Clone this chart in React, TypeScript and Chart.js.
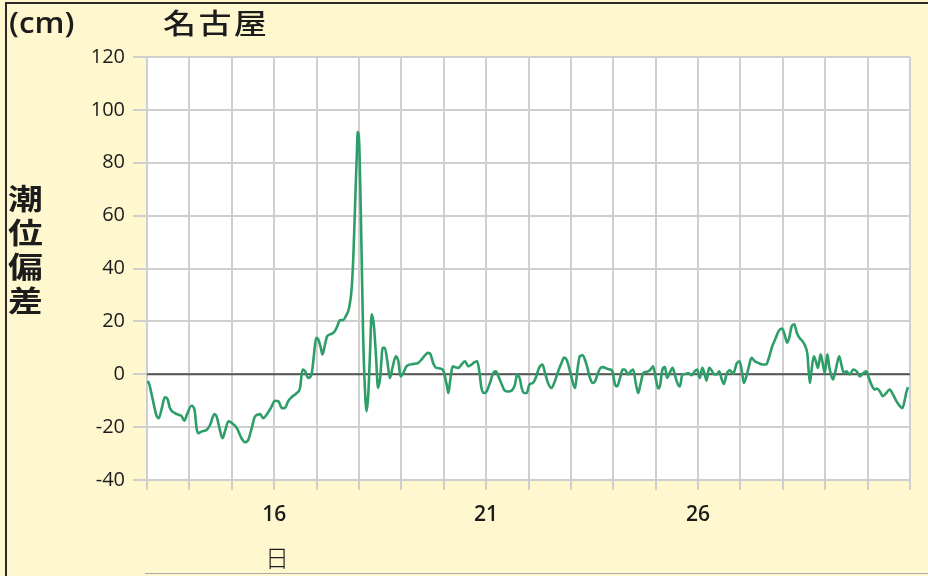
import React, { useEffect, useRef } from 'react';
import { Chart, registerables } from 'chart.js';

Chart.register(...registerables);

// time in days of the month (13th 0:00 .. 31st 0:00)
const times = [
  13.0, 13.03, 13.11, 13.23, 13.28, 13.35, 13.42, 13.49, 13.54, 13.66, 13.74, 13.82, 13.88, 13.94,
  14.05, 14.12, 14.17, 14.21, 14.29, 14.41, 14.49, 14.59, 14.64, 14.7, 14.78, 14.84, 14.92,
  15.01, 15.12, 15.23, 15.31, 15.39, 15.47, 15.55, 15.67, 15.74, 15.82, 15.92,
  16.02, 16.1, 16.18, 16.25, 16.33, 16.41, 16.53, 16.61, 16.67, 16.73, 16.8, 16.88, 16.94, 16.99,
  17.04, 17.1, 17.14, 17.2, 17.25, 17.36, 17.43, 17.49, 17.55, 17.63, 17.69, 17.77, 17.83, 17.87, 17.91, 17.95, 17.97,
  18.01, 18.04, 18.07, 18.1, 18.14, 18.18, 18.22, 18.26, 18.3, 18.35, 18.4, 18.45, 18.5, 18.56, 18.61, 18.67, 18.73, 18.79, 18.87, 18.93, 18.98,
  19.05, 19.12, 19.28, 19.4, 19.48, 19.56, 19.63, 19.69, 19.75, 19.83, 19.91, 19.99,
  20.07, 20.11, 20.15, 20.21, 20.26, 20.34, 20.42, 20.5, 20.58, 20.66, 20.74, 20.79, 20.84, 20.89, 20.95,
  21.01, 21.09, 21.17, 21.23, 21.29, 21.37, 21.44, 21.52, 21.6, 21.68, 21.73, 21.8, 21.84, 21.89, 21.96,
  22.02, 22.1, 22.17, 22.25, 22.33, 22.39, 22.46, 22.54, 22.62, 22.7, 22.78, 22.84, 22.9, 22.98,
  23.06, 23.1, 23.15, 23.21, 23.28, 23.33, 23.38, 23.45, 23.51, 23.57, 23.64, 23.7, 23.76, 23.84, 23.92, 23.98,
  24.04, 24.09, 24.16, 24.22, 24.27, 24.35, 24.41, 24.47, 24.53, 24.59, 24.64, 24.71, 24.77, 24.82, 24.88, 24.94,
  25.0, 25.06, 25.1, 25.16, 25.22, 25.27, 25.33, 25.4, 25.45, 25.51, 25.57, 25.63, 25.71, 25.77, 25.85, 25.92, 25.98,
  26.04, 26.1, 26.16, 26.2, 26.26, 26.32, 26.37, 26.44, 26.5, 26.56, 26.61, 26.67, 26.75, 26.83, 26.91, 26.98,
  27.04, 27.08, 27.14, 27.2, 27.26, 27.34, 27.42, 27.51, 27.61, 27.67, 27.75, 27.82, 27.9, 27.98,
  28.04, 28.1, 28.15, 28.21, 28.27, 28.33, 28.39, 28.45, 28.53, 28.58, 28.61, 28.64, 28.67, 28.73, 28.78, 28.83, 28.89, 28.94, 28.99,
  29.05, 29.1, 29.18, 29.24, 29.33, 29.38, 29.44, 29.5, 29.58, 29.66, 29.74, 29.82, 29.9, 29.97,
  30.03, 30.11, 30.17, 30.22, 30.29, 30.36, 30.44, 30.52, 30.6, 30.68, 30.76, 30.82, 30.87, 30.91, 30.95,
];

// tide deviation (cm), Nagoya
const deviation = [
  -3.3, -2.9, -7.7, -15.9, -16.6, -12.8, -8.7, -9.6, -12.8, -14.7, -15.3, -15.9, -17.6, -15.3,
  -11.9, -13.4, -20.4, -22.3, -21.6, -21.0, -19.1, -15.1, -15.9, -19.7, -24.2, -21.6, -17.8,
  -18.5, -20.4, -24.2, -25.7, -24.8, -20.4, -15.9, -15.1, -16.6, -15.3, -12.8,
  -10.0, -10.2, -12.8, -12.8, -10.2, -8.7, -7.1, -5.2, 1.8, 1.1, -1.4, -0.1, 7.5, 13.8,
  13.2, 10.0, 7.5, 11.3, 14.4, 15.3, 16.3, 18.2, 20.4, 20.5, 22.0, 25.2, 32.8, 45.4, 64.4, 83.4, 91.6,
  85.9, 64.4, 39.1, 13.8, -5.2, -14.0, -7.7, 7.5, 22.7, 18.9, 7.5, -5.2, -1.4, 10.0, 10.0, 4.9, -1.4, 2.4, 6.8, 4.9, -0.8,
  0.5, 3.0, 3.9, 4.3, 5.6, 7.2, 8.1, 7.5, 4.3, 2.4, 2.2, 1.4,
  -3.9, -7.1, -2.7, 3.0, 2.7, 2.4, 3.7, 4.9, 3.0, 3.7, 4.7, 4.9, 1.1, -5.2, -7.1,
  -6.5, -3.3, 0.5, 1.1, -0.8, -3.9, -6.2, -6.5, -6.2, -3.9, -0.1, -2.0, -5.2, -7.1, -7.1,
  -3.9, -3.3, -1.4, 2.4, 3.7, 0.5, -3.3, -5.2, -2.7, 1.1, 4.3, 6.3, 5.5, 1.1,
  -3.9, -5.2, 1.1, 6.8, 7.2, 5.6, 3.0, -1.4, -3.3, -2.7, 0.5, 2.4, 2.7, 2.2, 1.8, 1.1,
  -3.9, -4.6, -1.4, 1.8, 1.8, -0.1, 1.1, 1.8, -3.3, -7.1, -3.9, 0.5, 0.9, 1.1, 1.8, 3.0,
  -1.4, -5.4, -4.6, 1.8, 2.7, -1.4, 0.5, 2.4, -0.1, -3.3, -4.6, -0.1, 0.1, 0.5, -0.4, 1.1, 1.8,
  -1.4, 2.4, -0.1, -2.4, 2.4, 1.4, 0.1, -0.1, 1.1, -2.0, -3.7, -0.1, 1.5, 0.2, 4.0, 4.9,
  0.5, -3.3, -0.8, 3.0, 6.2, 4.9, 4.3, 3.7, 3.7, 6.2, 10.6, 13.2, 16.3, 17.3,
  15.1, 11.9, 13.8, 18.2, 18.9, 15.7, 13.8, 12.8, 10.6, 7.5, 1.1, -3.3, 0.5, 6.8, 4.9, 2.4, 7.5, 4.3, 0.5,
  7.5, 2.4, -2.0, 1.1, 6.8, 3.7, 0.5, 1.1, -0.1, 1.8, 1.1, -0.8, 0.5, 1.1,
  -1.4, -4.6, -5.8, -5.4, -6.5, -8.3, -7.1, -5.8, -7.7, -10.2, -12.1, -12.8, -10.2, -7.1, -4.9,
];

const labeledDays = [16, 21, 26];
const xMin = 13;
const xMax = 31;
const yMin = -40;
const yMax = 120;
const yStep = 20;

const GRID = '#cfcfcf';
const TEXT = '#1c1c1c';

export default function App() {
  const ref = useRef<HTMLCanvasElement | null>(null);

  useEffect(() => {
    document.body.style.margin = '0';
    const canvas = ref.current;
    if (!canvas) return;

    const plotBg = {
      id: 'plotBg',
      beforeDraw(chart: any) {
        const { ctx, chartArea: a } = chart;
        ctx.save();
        ctx.fillStyle = '#ffffff';
        ctx.fillRect(a.left, a.top, a.right - a.left, a.bottom - a.top);
        ctx.restore();
      },
    };
    const zeroLine = {
      id: 'zeroLine',
      beforeDatasetsDraw(chart: any) {
        const { ctx, chartArea: a, scales } = chart;
        const y = scales.y.getPixelForValue(0);
        ctx.save();
        ctx.strokeStyle = '#555555';
        ctx.lineWidth = 2;
        ctx.beginPath();
        ctx.moveTo(a.left, y);
        ctx.lineTo(a.right, y);
        ctx.stroke();
        ctx.restore();
      },
    };

    const chart = new Chart(canvas, {
      type: 'line',
      data: {
        datasets: [
          {
            data: times.map((t, i) => ({ x: t, y: deviation[i] })),
            borderColor: '#2e9e69',
            borderWidth: 2.6,
            pointRadius: 0,
            cubicInterpolationMode: 'monotone',
            fill: false,
          },
        ],
      },
      options: {
        animation: false,
        responsive: false,
        maintainAspectRatio: false,
        layout: { padding: { top: 57, right: 18, left: 0, bottom: 0 } },
        plugins: { legend: { display: false }, tooltip: { enabled: false }, title: { display: false } },
        scales: {
          x: {
            type: 'linear',
            min: xMin,
            max: xMax,
            afterBuildTicks: (s: any) => {
              const arr = [];
              for (let d = xMin; d <= xMax; d++) arr.push({ value: d });
              s.ticks = arr;
            },
            afterFit: (s: any) => {
              s.height = 96;
            },
            ticks: {
              autoSkip: false,
              maxRotation: 0,
              padding: 12,
              color: TEXT,
              font: { family: 'Open Sans', size: 21, weight: '600' },
              callback: (v: any) => (labeledDays.includes(Number(v)) ? String(v) : ''),
            },
            grid: { color: GRID, lineWidth: 2, tickLength: 10 },
            border: { color: GRID, width: 2 },
          },
          y: {
            min: yMin,
            max: yMax,
            afterFit: (s: any) => {
              s.width = 147;
            },
            ticks: {
              stepSize: yStep,
              padding: 8,
              color: TEXT,
              font: { family: 'Open Sans', size: 20, weight: '500' },
            },
            grid: { color: GRID, lineWidth: 2, tickLength: 14 },
            border: { color: GRID, width: 2 },
          },
        },
      } as any,
      plugins: [plotBg, zeroLine],
    });
    return () => chart.destroy();
  }, []);

  const cjk = '"Noto Sans CJK JP", "Noto Sans", sans-serif';
  return (
    <div
      style={{
        position: 'fixed',
        left: 0,
        top: 0,
        width: 928,
        height: 576,
        background: '#fff8cf',
        overflow: 'hidden',
      }}
    >
      <canvas ref={ref} width={928} height={576} style={{ display: 'block', position: 'absolute', left: 0, top: 0 }} />
      <div style={{ position: 'absolute', left: 5, top: 2, width: 923, height: 574, borderLeft: '2px solid #2a2a2a', borderTop: '2px solid #2a2a2a', pointerEvents: 'none' }} />
      <div style={{ position: 'absolute', left: 145, top: 573, width: 783, height: 1, background: '#aaaaaa' }} />
      <div style={{ position: 'absolute', left: 9, top: 3, fontFamily: '"Open Sans", sans-serif', fontSize: 28, fontWeight: 600, color: TEXT, lineHeight: '38px', transform: 'scaleX(1.12)', transformOrigin: 'left top' }}>
        (cm)
      </div>
      <div style={{ position: 'absolute', left: 163, top: 0, fontFamily: cjk, fontSize: 28, fontWeight: 500, color: TEXT, lineHeight: '44px', transform: 'scaleX(1.18)', transformOrigin: 'left top', letterSpacing: 2 }}>
        名古屋
      </div>
      <div style={{ position: 'absolute', left: 8, top: 180, width: 32, fontFamily: cjk, fontSize: 29, fontWeight: 600, color: TEXT, lineHeight: '34px', transform: 'scaleX(1.2)', transformOrigin: 'left top' }}>
        潮<br />位<br />偏<br />差
      </div>
      <div style={{ position: 'absolute', left: 265, top: 540, fontFamily: cjk, fontSize: 24, fontWeight: 300, color: TEXT, lineHeight: '34px' }}>
        日
      </div>
    </div>
  );
}
